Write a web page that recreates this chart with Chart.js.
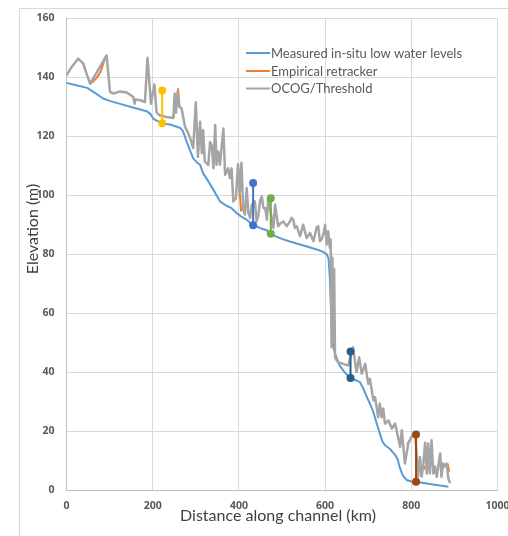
<!DOCTYPE html>
<html>
<head>
<meta charset="utf-8">
<script src="https://cdn.jsdelivr.net/npm/chart.js@4.4.0/dist/chart.umd.min.js"></script>
<style>
  html, body { margin: 0; padding: 0; background: #fff; overflow: hidden; }
  #wrap { width: 508px; height: 536px; position: relative; }
</style>
</head>
<body>
<div id="wrap"><canvas id="c" width="508" height="536"></canvas></div>
<script>
// Distance along the channel (km) and elevation (m) for each profile.
const measuredKm = [0, 20, 48, 65, 85, 100, 116, 150, 186, 195,
  201, 210, 222, 240, 263, 270, 279, 287, 294, 302,
  310, 317, 330, 341, 350, 356, 370, 383, 395, 405,
  418, 433, 450, 465, 472, 490, 503, 520, 542, 560,
  580, 595, 604, 608, 611, 614, 617, 619, 626, 634,
  645, 658, 670, 681, 690, 697, 705, 712, 720, 727,
  733, 739, 750, 762, 768, 774, 780, 789, 800, 812,
  850, 886];
const measuredElev = [138.1, 137.4, 136.4, 134.8, 132.8, 132, 131.3, 129.9, 128.5, 127.5,
  126, 125.2, 124.4, 124, 122.9, 121.8, 118.1, 115, 112.5, 111.2,
  110.3, 107.4, 104.5, 101.8, 99.5, 97.9, 96.5, 95.6, 93.9, 92.8,
  91.7, 89.9, 88.8, 88.1, 86.9, 85.8, 85, 84.2, 83.3, 82.5,
  81.6, 80.8, 79.9, 78.5, 72, 60, 52, 48.4, 45, 42.2,
  40, 38, 37.3, 36.6, 34, 31.5, 29, 26.4, 22.5, 19.1,
  16.5, 15.2, 14, 12, 10.5, 7.3, 5, 3.4, 2.9, 2.8,
  1.9, 1.1];

const ocogKm = [0, 12, 27, 39, 47, 55, 93, 101,
  109, 124, 140, 155, 158, 160, 171, 182, 188, 196,
  204, 209, 217, 232, 248, 251, 254, 258, 262, 267,
  275, 281, 287, 294, 300, 305, 310, 314, 317, 321,
  329, 333, 337, 341, 345, 348, 352, 356, 364, 368,
  375, 379, 383, 387, 393, 398, 402, 406, 410, 414,
  418, 422, 426, 430, 437, 441, 445, 449, 453, 457,
  461, 465, 468, 472, 476, 480, 484, 491, 497, 503,
  511, 518, 522, 526, 530, 534, 542, 549, 557, 565,
  573, 580, 584, 588, 592, 597, 600, 604, 607, 611,
  613, 615, 617, 619, 621, 623, 627, 631, 642, 654,
  662, 665, 669, 673, 679, 685, 693, 700, 704, 712,
  716, 723, 727, 731, 735, 739, 747, 755, 762, 766,
  774, 778, 785, 793, 800, 809, 816, 820, 824, 828,
  832, 836, 839, 843, 847, 851, 855, 859, 867, 870,
  874, 878, 882, 886, 890];
const ocogElev = [140.6, 143.5, 146.3, 144.6, 141, 137.8, 147.4, 135,
  134.5, 135.2, 134.8, 133.3, 131, 132.5, 132.2, 131.6, 146.6, 131,
  137.5, 128, 127, 126.5, 126.2, 134.5, 128, 135, 130, 129.4,
  123.2, 121.5, 119.3, 116, 131.5, 113, 124.9, 114.2, 122, 111.4,
  110.3, 118, 117, 109.1, 123.8, 110.3, 114.8, 110.3, 122.6, 106.9,
  109.1, 105.8, 109.1, 97.9, 99, 110.5, 101, 111, 95, 93.4,
  102.4, 94, 92.3, 96.8, 97.9, 91.1, 93, 97.9, 99.6, 95.6,
  95.6, 91.7, 99, 95.6, 92.3, 88.9, 96.8, 89.5, 90.5, 91.1,
  89.5, 91, 92.3, 91.7, 88.9, 89.5, 86.1, 90, 85.5, 87.2,
  84.4, 88.9, 89.5, 84.4, 85, 87.2, 90, 83.3, 87.8, 82.1,
  85, 48.4, 78.8, 50, 75, 45, 44, 43.3, 42.8, 42.2,
  47.3, 48.4, 44, 40, 45, 39.4, 42.8, 36, 37.7, 30.4,
  31.5, 24.7, 29.3, 24.7, 27.6, 22.5, 23.6, 20.8, 22.5, 20.3,
  14.6, 20.3, 9, 15.8, 18, 19.1, 4.5, 11.2, 4.5, 9,
  16, 5.6, 15.8, 5.6, 16.9, 5.6, 8, 4.5, 12.4, 4.5,
  9, 8, 9, 3.9, 2.3];

// Empirical retracker: the stretches where it departs from OCOG (null = break)
const empiricalKm = [55, 62, 68, 74, 80, 84, 89, 93, 95,
  240, 248, 252, 256, 259, 262, 265,
  400, 403, 405, 407,
  790, 797, 803, 805,
  826, 829, 832, 834,
  884, 888];
const empiricalElev = [137.8, 138.6, 139.5, 140.6, 142.2, 144, 146.3, 147.4, null,
  126.2, 126.4, 131, 133, 136, 130, null,
  103, 99, 94.5, null,
  15.5, 16.9, 18.6, null,
  6.5, 8, 7, null,
  9, 6.2];

// Vertical offsets between altimetry and in-situ level at five sites
const offsetKm = [222, 433, 474, 659, 811];
const offsetLow = [124.4, 89.8, 86.9, 38, 2.8];
const offsetHigh = [135.5, 104.1, 99, 47, 18.8];

const xTicks = [0, 200, 400, 600, 800, 1000];
const yTicks = [0, 20, 40, 60, 80, 100, 120, 140, 160];

const offsetColors = ['#FFC000', '#4472C4', '#70AD47', '#255E91', '#9E480E'];
const TEXT = '#595959';
const FONT = 'Lato, "Open Sans", sans-serif';
const TICK_FONT = '"Open Sans", sans-serif';

const pts = (xs, ys) => xs.map((x, i) => ({ x: x, y: ys[i] }));

const datasets = [
  { label: 'Measured in-situ low water levels', data: pts(measuredKm, measuredElev),
    borderColor: '#5B9BD5', borderWidth: 2, pointRadius: 0, order: 3, inLegend: true },
  { label: 'Empirical retracker', data: pts(empiricalKm, empiricalElev),
    borderColor: '#ED7D31', borderWidth: 2, pointRadius: 0, order: 2, spanGaps: false, inLegend: true },
  { label: 'OCOG/Threshold', data: pts(ocogKm, ocogElev),
    borderColor: '#A5A5A5', borderWidth: 2.5, pointRadius: 0, order: 1, inLegend: true }
];
offsetKm.forEach((km, i) => {
  datasets.push({
    label: 'offset ' + km,
    data: [{ x: km, y: offsetLow[i] }, { x: km, y: offsetHigh[i] }],
    borderColor: offsetColors[i], backgroundColor: offsetColors[i],
    borderWidth: 2, pointRadius: 4, pointBorderWidth: 0, order: 0
  });
});

const decor = {
  id: 'decor',
  beforeDraw(chart) {
    const c = chart.ctx;
    c.save();
    c.fillStyle = '#fff';
    c.fillRect(0, 0, chart.width, chart.height);
    c.strokeStyle = '#d9d9d9';
    c.lineWidth = 1;
    c.beginPath();
    c.moveTo(19.5, chart.height);
    c.lineTo(19.5, 8.5);
    c.lineTo(chart.width, 8.5);
    c.stroke();
    c.restore();
  },
  afterDraw(chart) {
    const c = chart.ctx;
    c.save();
    // axis titles
    c.fillStyle = '#404040';
    c.font = '16px ' + FONT;
    c.textAlign = 'center';
    c.textBaseline = 'middle';
    c.fillText('Distance along channel (km)', 278, 516);
    c.translate(33, 229);
    c.rotate(-Math.PI / 2);
    c.fillText('Elevation (m)', 0, 0);
    c.restore();

    // legend
    c.save();
    c.font = '13px ' + FONT;
    c.textAlign = 'left';
    c.textBaseline = 'middle';
    const rows = [53, 71, 88.5];
    chart.data.datasets.filter(d => d.inLegend).forEach((d, i) => {
      const y = rows[i];
      c.strokeStyle = d.borderColor;
      c.lineWidth = 2;
      c.beginPath();
      c.moveTo(246, y);
      c.lineTo(270, y);
      c.stroke();
      c.fillStyle = TEXT;
      c.fillText(d.label, 271, y + 0.5);
    });
    c.restore();
  }
};

new Chart(document.getElementById('c'), {
  type: 'line',
  data: { datasets: datasets },
  options: {
    responsive: false,
    animation: false,
    layout: { padding: { left: 0, top: 16, right: 10.5, bottom: 0 } },
    plugins: { legend: { display: false }, tooltip: { enabled: false } },
    elements: { line: { tension: 0, borderJoinStyle: 'round' } },
    scales: {
      x: {
        type: 'linear', min: 0, max: 1000,
        afterBuildTicks: s => { s.ticks = xTicks.map(v => ({ value: v })); },
        afterFit: s => { s.height = 46; s.paddingLeft = 0; s.paddingRight = 0; },
        ticks: { color: TEXT, font: { family: TICK_FONT, size: 10.5, weight: 'bold' }, padding: 10,
                 maxRotation: 0, callback: v => String(v) },
        grid: { color: '#d9d9d9', drawTicks: false },
        border: { color: '#bfbfbf' }
      },
      y: {
        type: 'linear', min: 0, max: 160,
        afterBuildTicks: s => { s.ticks = yTicks.map(v => ({ value: v })); },
        afterFit: s => { s.width = 66.5; },
        ticks: { color: TEXT, font: { family: TICK_FONT, size: 10.5, weight: 'bold' }, padding: 12,
                 callback: v => String(v) },
        grid: { color: '#d9d9d9', drawTicks: false },
        border: { color: '#bfbfbf' }
      }
    }
  },
  plugins: [decor]
});
</script>
</body>
</html>
